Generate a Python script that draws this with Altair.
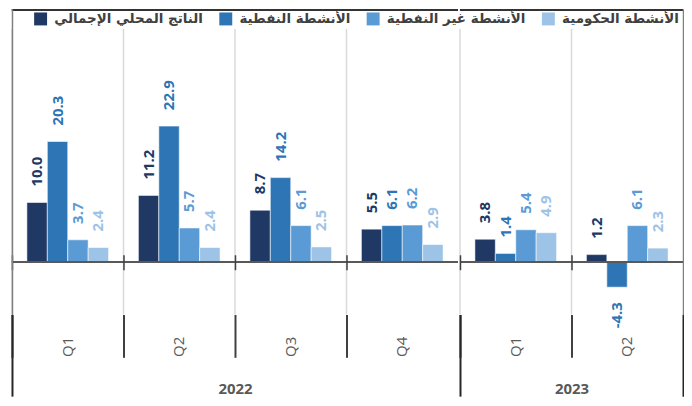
import altair as alt
import pandas as pd

# ---- data ----
years = ["2022", "2022", "2022", "2022", "2023", "2023"]
quarters = ["Q1", "Q2", "Q3", "Q4", "Q1", "Q2"]
series_names = [
    "الناتج المحلي الإجمالي",
    "الأنشطة النفطية",
    "الأنشطة غير النفطية",
    "الأنشطة الحكومية",
]
gdp = [10.0, 11.2, 8.7, 5.5, 3.8, 1.2]
oil = [20.3, 22.9, 14.2, 6.1, 1.4, -4.3]
non_oil = [3.7, 5.7, 6.1, 6.2, 5.4, 6.1]
gov = [2.4, 2.4, 2.5, 2.9, 4.9, 2.3]
colors = ["#203864", "#2E75B6", "#5B9BD5", "#9DC3E6"]

rows = []
for vals, name in zip([gdp, oil, non_oil, gov], series_names):
    for yr, q, v in zip(years, quarters, vals):
        rows.append({"year": yr, "quarter": q, "series": name,
                     "value": v, "label": f"{v:.1f}"})
df = pd.DataFrame(rows)

Y_DOMAIN = [-8.91, 42.69]
GRID_TOP = 39.3
TOP_LINE = 42.5
PLOT_H = 307
BELOW_ZERO = 53
STEP = 112
NUM_FONT = "Open Sans"
GREY_TXT = "#595959"

legend = alt.Legend(
    orient="none", legendX=22, legendY=3, direction="horizontal", columns=4,
    title=None, symbolType="square", symbolSize=169, symbolStrokeWidth=0,
    labelFont="DejaVu Sans", labelFontSize=13.5, labelFontWeight="bold",
    labelColor="#404040", labelLimit=300, labelOffset=7, columnPadding=16,
    padding=0,
)


def no_axis(**kw):
    base = dict(labels=False, grid=False, title=None, domain=False, ticks=False)
    base.update(kw)
    return alt.Axis(**base)


def panel(year, qs, side):
    d = df[df["year"] == year]
    xscale = alt.Scale(paddingInner=0, paddingOuter=0)

    def xenc(axis):
        return alt.X("quarter:N", sort=qs, scale=xscale, axis=axis)

    xo = alt.XOffset("series:N", sort=series_names,
                     scale=alt.Scale(paddingInner=0, paddingOuter=0.73))

    yscale = alt.Scale(domain=Y_DOMAIN, nice=False, zero=False)

    def yenc(axis=None):
        return alt.Y("value:Q", scale=yscale, axis=axis)

    col_legend = alt.Color("series:N", sort=series_names,
                           scale=alt.Scale(domain=series_names, range=colors),
                           legend=legend)
    col_plain = alt.Color("series:N", sort=series_names,
                          scale=alt.Scale(domain=series_names, range=colors),
                          legend=None)

    main_axis = alt.Axis(
        orient="bottom", title=year, bandPosition=0, domain=False,
        ticks=True, tickSize=43, tickColor="#404040", tickWidth=2, grid=False,
        labelAngle=270, labelAlign="center", labelBaseline="middle",
        labelPadding=-11, labelFont=NUM_FONT, labelFontSize=15, labelColor=GREY_TXT,
        titleFont=NUM_FONT, titleFontSize=15, titleFontWeight="bold",
        titleColor=GREY_TXT, titlePadding=23,
    )
    y_border = alt.Axis(orient=side, domain=True, domainColor="#808080", domainWidth=1.5,
                        ticks=False, labels=False, grid=False, title=None, zindex=1)

    grid = alt.Chart(pd.DataFrame({"quarter": qs})).mark_rule(
        color="#d9d9d9", strokeWidth=1.5
    ).encode(
        x=alt.X("quarter:N", sort=qs, scale=xscale, bandPosition=0, axis=None),
        y=alt.YDatum(GRID_TOP, scale=yscale, axis=None),
        y2=alt.Y2Datum(Y_DOMAIN[0]),
    )

    bars = alt.Chart(d).mark_bar(stroke="white", strokeWidth=0.8, strokeOpacity=0.7).encode(
        x=xenc(main_axis), xOffset=xo, y=yenc(y_border), color=col_legend,
    )

    pos = alt.Chart(d).transform_filter("datum.value >= 0").mark_text(
        angle=270, align="left", baseline="middle", dx=16,
        font=NUM_FONT, fontSize=15, fontWeight="bold",
    ).encode(
        x=xenc(None), xOffset=xo, y=yenc(), color=col_plain, text="label:N",
    )

    neg = alt.Chart(d).transform_filter("datum.value < 0").mark_text(
        angle=270, align="right", baseline="middle", dx=-15,
        font=NUM_FONT, fontSize=15, fontWeight="bold",
    ).encode(
        x=xenc(None), xOffset=xo, y=yenc(), color=col_plain, text="label:N",
    )

    zero_line = alt.Chart(d).mark_rule(color="#595959", strokeWidth=1.5).encode(
        y=alt.YDatum(0, scale=yscale, axis=None)
    )
    top_line = alt.Chart(d).mark_rule(color="#333333", strokeWidth=2).encode(
        y=alt.YDatum(TOP_LINE, scale=yscale, axis=None)
    )

    ghost = alt.Chart(d).mark_bar(opacity=0)

    zero_ticks = ghost.encode(
        x=xenc(no_axis(orient="bottom", offset=-(BELOW_ZERO + 7), ticks=True,
                       tickSize=15, tickColor="#404040", tickWidth=1.5,
                       bandPosition=0, zindex=1)),
        xOffset=xo, y=yenc(),
    )
    year_l = ghost.encode(
        x=xenc(no_axis(orient="bottom", values=[qs[0]], bandPosition=0, ticks=True,
                       tickSize=82, tickColor="#262626", tickWidth=2)),
        xOffset=xo, y=yenc(),
    )
    layers = [grid, bars, zero_line, top_line, pos, neg, zero_ticks, year_l]
    if side == "right":
        year_r = ghost.encode(
            x=xenc(no_axis(orient="bottom", values=[qs[-1]], bandPosition=1, ticks=True,
                           tickSize=82, tickColor="#262626", tickWidth=2)),
            xOffset=xo, y=yenc(),
        )
        layers.append(year_r)

    return alt.layer(*layers).resolve_axis(x="independent", y="independent").properties(
        width=STEP * len(qs), height=PLOT_H
    )


p1 = panel("2022", ["Q1", "Q2", "Q3", "Q4"], "left")
p2 = panel("2023", ["Q1", "Q2"], "right")

chart = alt.hconcat(p1, p2, spacing=0).resolve_scale(x="independent").properties(
    padding={"left": 3, "top": 0, "right": 0, "bottom": 0}
).configure_view(stroke=None)

chart.save("out.html", embed_options={"renderer": "svg", "actions": False})
